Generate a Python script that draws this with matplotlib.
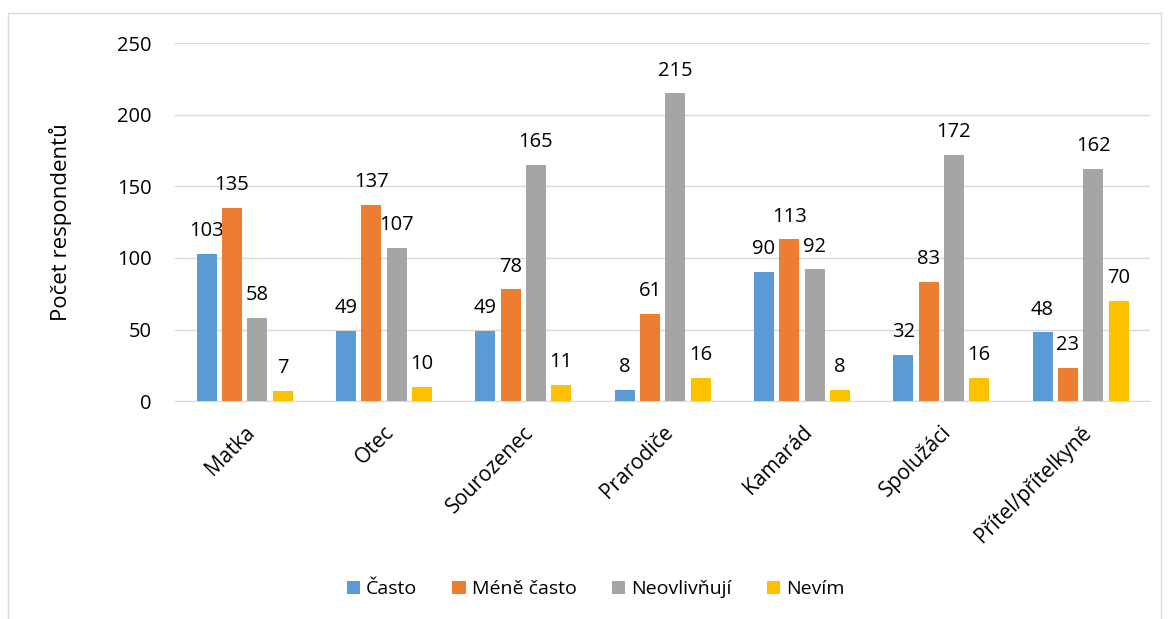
import matplotlib
matplotlib.use("Agg")
import matplotlib.pyplot as plt
import numpy as np
from matplotlib.patches import Rectangle

plt.rcParams['font.family'] = ['Open Sans', 'DejaVu Sans']

categories = ["Matka", "Otec", "Sourozenec", "Prarodiče", "Kamarád", "Spolužáci", "Přítel/přítelkyně"]
series_names = ["Často", "Méně často", "Neovlivňují", "Nevím"]
casto = [103, 49, 49, 8, 90, 32, 48]
mene_casto = [135, 137, 78, 61, 113, 83, 23]
neovlivnuji = [58, 107, 165, 215, 92, 172, 162]
nevim = [7, 10, 11, 16, 8, 16, 70]
colors = ["#5B9BD5", "#ED7D31", "#A5A5A5", "#FFC000"]

fig = plt.figure(figsize=(11.68, 6.19), dpi=100)
ax = fig.add_axes([0.1498, 0.352, 0.835, 0.578])

fig.patches.append(Rectangle((0.007, -0.01), 0.987, 0.989, transform=fig.transFigure,
                             fill=False, edgecolor="#D9D9D9", linewidth=1))

x = np.arange(len(categories))
step = 0.1817
width = 0.1436
for i, (vals, name) in enumerate(zip([casto, mene_casto, neovlivnuji, nevim], series_names)):
    pos = x + (i - 1.5) * step
    ax.bar(pos, vals, width, color=colors[i], label=name, zorder=3)
    for p, v in zip(pos, vals):
        ax.text(p, v + 9, str(v), ha="center", va="bottom", fontsize=14.5, color="#000000")

ax.set_xlim(-0.5, len(categories) - 0.5)
ax.set_ylim(0, 250)
ax.set_yticks(range(0, 251, 50))
ax.grid(axis="y", color="#D9D9D9", linewidth=1, zorder=0)
for s in ["top", "right", "left"]:
    ax.spines[s].set_visible(False)
ax.spines["bottom"].set_color("#D9D9D9")
ax.tick_params(axis="both", length=0)
ax.tick_params(axis="y", pad=17, labelsize=14.5)
ax.tick_params(axis="x", pad=15, labelsize=15)
ax.set_xticks(x)
ax.set_xticklabels(categories, rotation=45, ha="right", rotation_mode="anchor")
ax.set_ylabel("Počet respondentů", fontsize=16, labelpad=32)

fig.legend(loc="center", bbox_to_anchor=(0.51, 0.048), ncol=4, frameon=False,
           fontsize=14, handlelength=0.7, handleheight=0.7, handletextpad=0.3,
           columnspacing=1.8)

fig.savefig("out.png", dpi=100)
